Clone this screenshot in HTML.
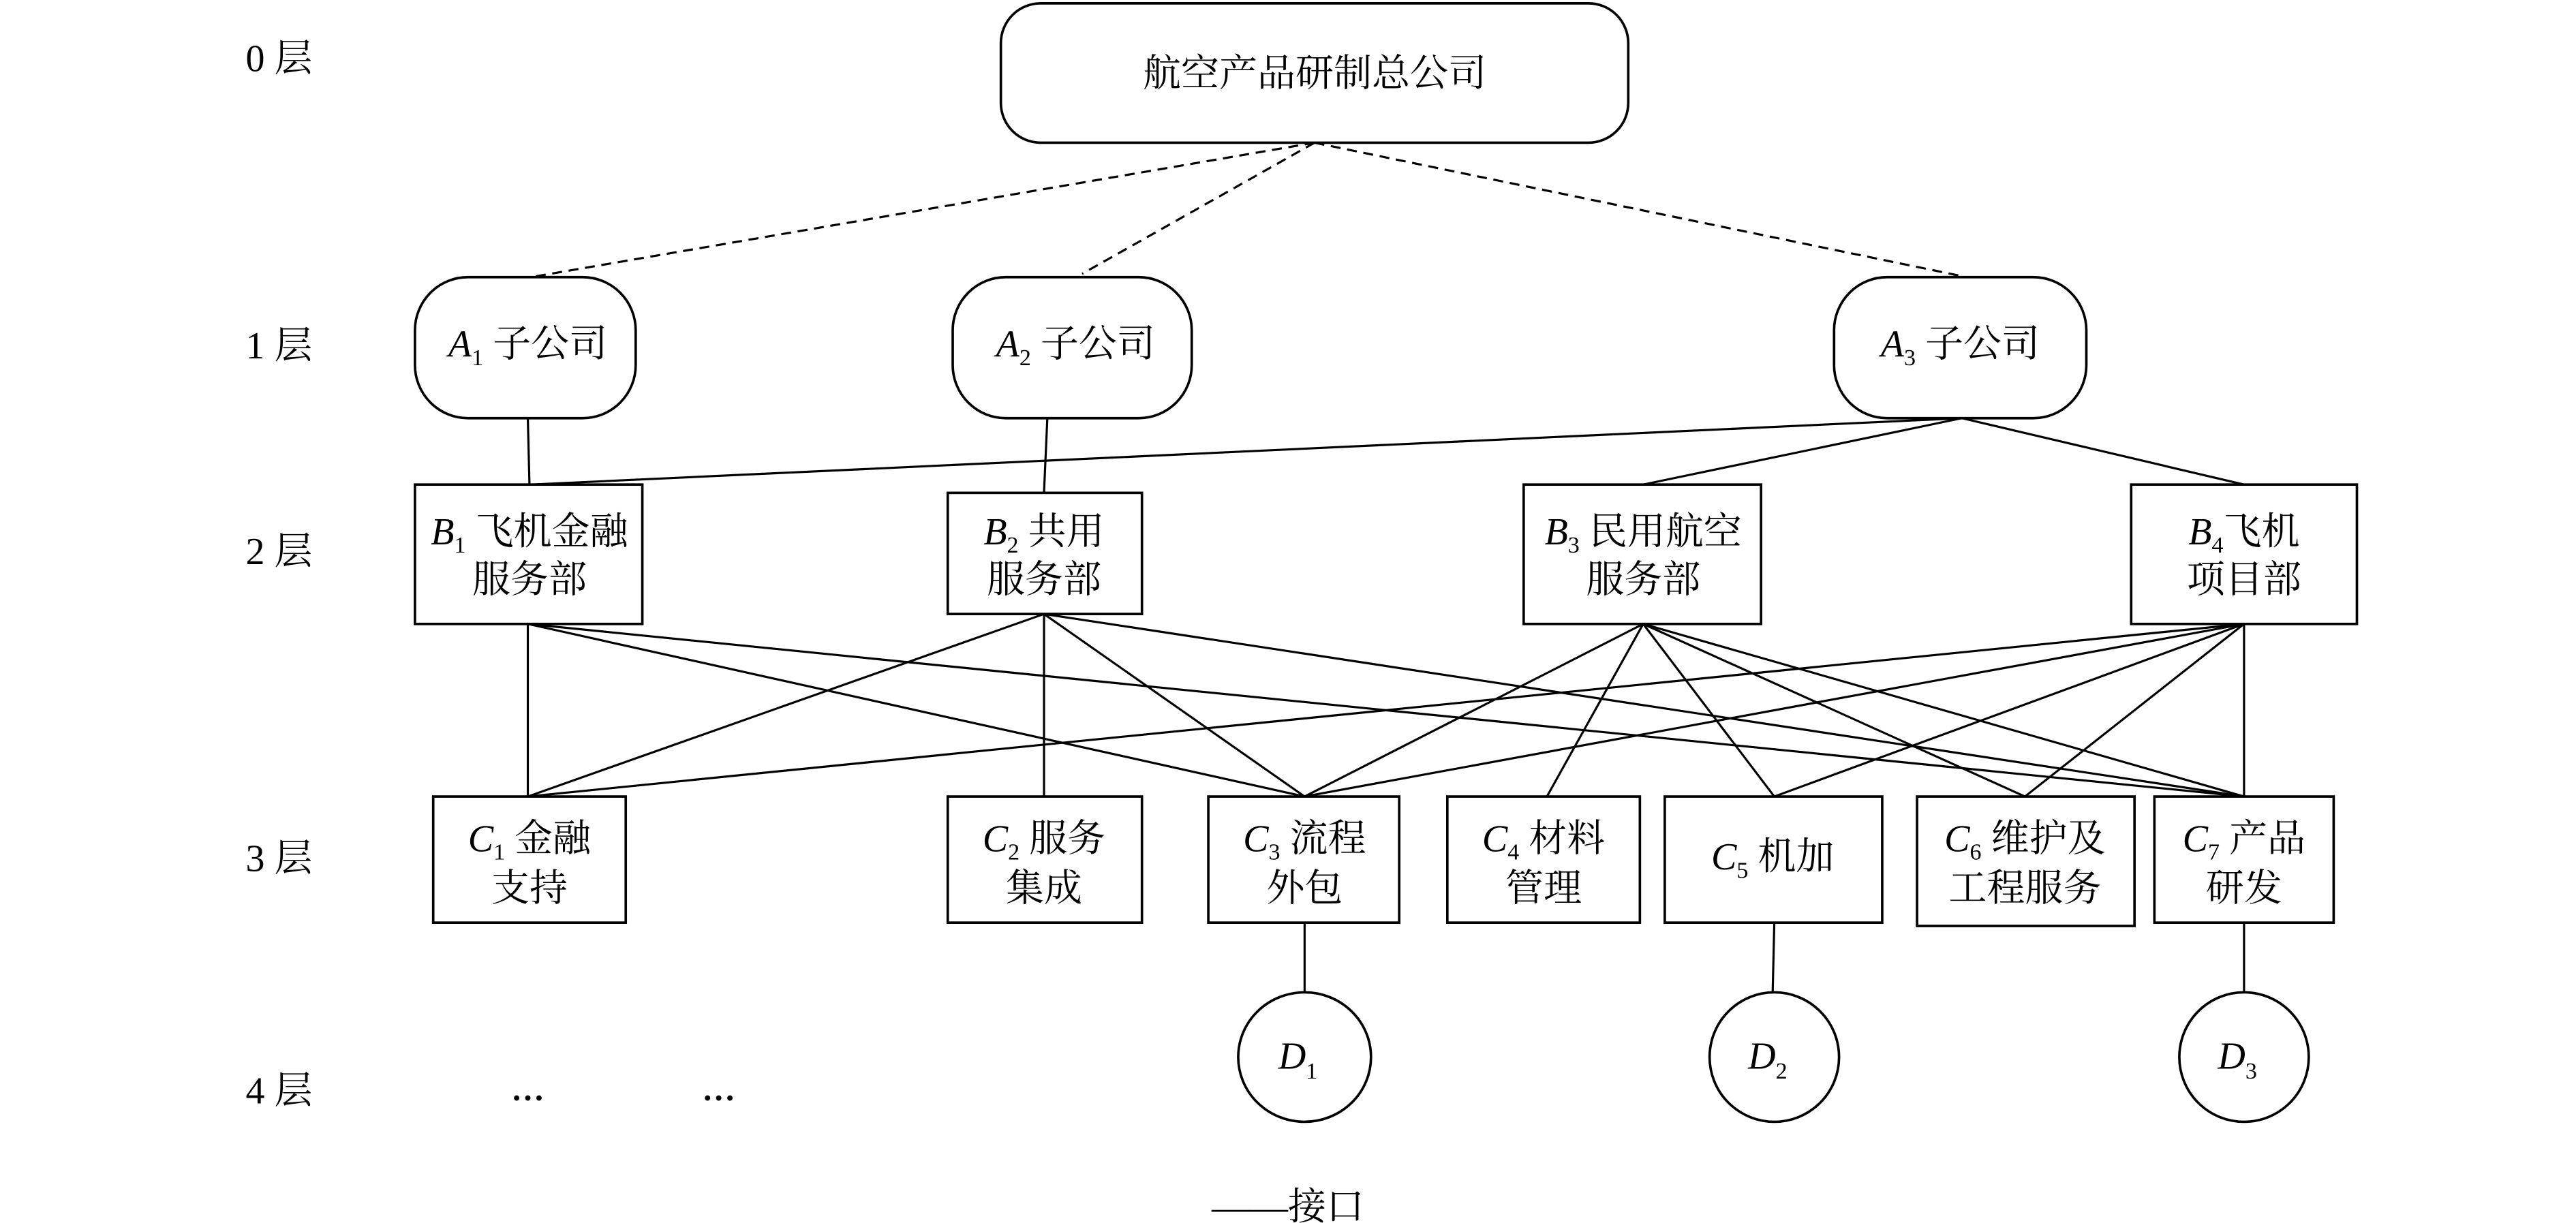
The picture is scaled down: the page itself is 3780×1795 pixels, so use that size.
<!DOCTYPE html>
<html><head><meta charset="utf-8"><style>
html,body{margin:0;padding:0;background:#fff;}
svg{display:block;}
text{font-family:"Liberation Serif","Noto Serif CJK SC",serif;font-size:23px;fill:#000;}
.i{font-style:italic;}
.s{font-size:14px;}
</style></head><body>
<svg width="3780" height="1795" viewBox="0 0 1552 737" preserveAspectRatio="none" xmlns="http://www.w3.org/2000/svg">
<g stroke="#000" stroke-width="1.3" fill="none">
<!-- dashed -->
<g stroke-dasharray="6,4">
<line x1="792" y1="86" x2="320" y2="167"/>
<line x1="792" y1="86" x2="652" y2="165"/>
<line x1="792" y1="86" x2="1180" y2="166"/>
</g>
<line x1="318" y1="252" x2="319" y2="292"/>
<line x1="631" y1="252" x2="629" y2="297"/>
<line x1="1182" y1="252" x2="320" y2="292"/>
<line x1="1182" y1="252" x2="990" y2="292"/>
<line x1="1182" y1="252" x2="1352" y2="292"/>
<!-- B1 -->
<line x1="318" y1="376" x2="318" y2="480"/>
<line x1="318" y1="376" x2="786" y2="480"/>
<line x1="318" y1="376" x2="1352" y2="480"/>
<!-- B2 -->
<line x1="629" y1="370" x2="318" y2="480"/>
<line x1="629" y1="370" x2="629" y2="480"/>
<line x1="629" y1="370" x2="786" y2="480"/>
<line x1="629" y1="370" x2="1352" y2="480"/>
<!-- B3 -->
<line x1="990" y1="376" x2="786" y2="480"/>
<line x1="990" y1="376" x2="932" y2="480"/>
<line x1="990" y1="376" x2="1069" y2="480"/>
<line x1="990" y1="376" x2="1220" y2="480"/>
<line x1="990" y1="376" x2="1352" y2="480"/>
<!-- B4 -->
<line x1="1352" y1="376" x2="318" y2="480"/>
<line x1="1352" y1="376" x2="786" y2="480"/>
<line x1="1352" y1="376" x2="1069" y2="480"/>
<line x1="1352" y1="376" x2="1220" y2="480"/>
<line x1="1352" y1="376" x2="1352" y2="480"/>
<!-- C to D -->
<line x1="786" y1="556" x2="786" y2="598"/>
<line x1="1069" y1="556" x2="1068" y2="598"/>
<line x1="1352" y1="556" x2="1352" y2="598"/>
</g>
<g stroke="#000" stroke-width="1.5" fill="#fff">
<rect x="603" y="2" width="378" height="84" rx="24"/>
<rect x="250" y="167" width="133" height="85" rx="32"/>
<rect x="574" y="167" width="144" height="85" rx="32"/>
<rect x="1105" y="167" width="152" height="85" rx="32"/>
<rect x="250" y="292" width="137" height="84"/>
<rect x="571" y="297" width="117" height="73"/>
<rect x="918" y="292" width="143" height="84"/>
<rect x="1284" y="292" width="136" height="84"/>
<rect x="261" y="480" width="116" height="76"/>
<rect x="571" y="480" width="117" height="76"/>
<rect x="728" y="480" width="115" height="76"/>
<rect x="872" y="480" width="116" height="76"/>
<rect x="1003" y="480" width="131" height="76"/>
<rect x="1155" y="480" width="131" height="78"/>
<rect x="1298" y="480" width="108" height="76"/>
<ellipse cx="786" cy="637" rx="40" ry="39"/>
<ellipse cx="1069" cy="637" rx="39" ry="39"/>
<ellipse cx="1352" cy="637" rx="39" ry="39"/>
</g>
<!-- layer labels -->
<text x="148" y="43">0 层</text>
<text x="148" y="216">1 层</text>
<text x="148" y="340">2 层</text>
<text x="148" y="525">3 层</text>
<text x="148" y="665">4 层</text>
<text x="792" y="52" text-anchor="middle">航空产品研制总公司</text>
<text x="318" y="215" text-anchor="middle"><tspan class="i">A</tspan><tspan class="s" dy="5">1</tspan><tspan dy="-5"> 子公司</tspan></text>
<text x="648" y="215" text-anchor="middle"><tspan class="i">A</tspan><tspan class="s" dy="5">2</tspan><tspan dy="-5"> 子公司</tspan></text>
<text x="1181" y="215" text-anchor="middle"><tspan class="i">A</tspan><tspan class="s" dy="5">3</tspan><tspan dy="-5"> 子公司</tspan></text>
<text x="319" y="328" text-anchor="middle"><tspan class="i">B</tspan><tspan class="s" dy="5">1</tspan><tspan dy="-5"> 飞机金融</tspan></text>
<text x="319" y="357" text-anchor="middle">服务部</text>
<text x="629" y="328" text-anchor="middle"><tspan class="i">B</tspan><tspan class="s" dy="5">2</tspan><tspan dy="-5"> 共用</tspan></text>
<text x="629" y="357" text-anchor="middle">服务部</text>
<text x="990" y="328" text-anchor="middle"><tspan class="i">B</tspan><tspan class="s" dy="5">3</tspan><tspan dy="-5"> 民用航空</tspan></text>
<text x="990" y="357" text-anchor="middle">服务部</text>
<text x="1352" y="328" text-anchor="middle"><tspan class="i">B</tspan><tspan class="s" dy="5">4</tspan><tspan dy="-5">飞机</tspan></text>
<text x="1352" y="357" text-anchor="middle">项目部</text>
<text x="319" y="513" text-anchor="middle"><tspan class="i">C</tspan><tspan class="s" dy="5">1</tspan><tspan dy="-5"> 金融</tspan></text>
<text x="319" y="543" text-anchor="middle">支持</text>
<text x="629" y="513" text-anchor="middle"><tspan class="i">C</tspan><tspan class="s" dy="5">2</tspan><tspan dy="-5"> 服务</tspan></text>
<text x="629" y="543" text-anchor="middle">集成</text>
<text x="786" y="513" text-anchor="middle"><tspan class="i">C</tspan><tspan class="s" dy="5">3</tspan><tspan dy="-5"> 流程</tspan></text>
<text x="786" y="543" text-anchor="middle">外包</text>
<text x="930" y="513" text-anchor="middle"><tspan class="i">C</tspan><tspan class="s" dy="5">4</tspan><tspan dy="-5"> 材料</tspan></text>
<text x="930" y="543" text-anchor="middle">管理</text>
<text x="1068" y="524" text-anchor="middle"><tspan class="i">C</tspan><tspan class="s" dy="5">5</tspan><tspan dy="-5"> 机加</tspan></text>
<text x="1220" y="513" text-anchor="middle"><tspan class="i">C</tspan><tspan class="s" dy="5">6</tspan><tspan dy="-5"> 维护及</tspan></text>
<text x="1220" y="543" text-anchor="middle">工程服务</text>
<text x="1352" y="513" text-anchor="middle"><tspan class="i">C</tspan><tspan class="s" dy="5">7</tspan><tspan dy="-5"> 产品</tspan></text>
<text x="1352" y="543" text-anchor="middle">研发</text>
<text x="782" y="644" text-anchor="middle"><tspan class="i">D</tspan><tspan class="s" dy="6">1</tspan></text>
<text x="1065" y="644" text-anchor="middle"><tspan class="i">D</tspan><tspan class="s" dy="6">2</tspan></text>
<text x="1348" y="644" text-anchor="middle"><tspan class="i">D</tspan><tspan class="s" dy="6">3</tspan></text>
<text x="318" y="663" text-anchor="middle" style="font-weight:bold;font-size:20px">…</text>
<text x="433" y="663" text-anchor="middle" style="font-weight:bold;font-size:20px">…</text>
<text x="730" y="735">——接口</text>
</svg>
</body></html>
